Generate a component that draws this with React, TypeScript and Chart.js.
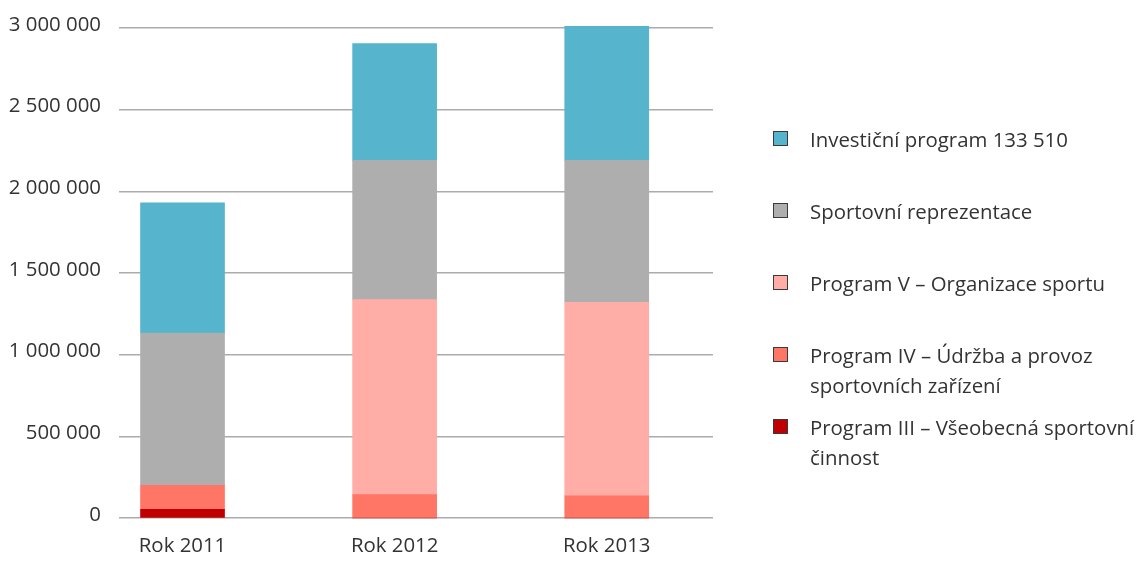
import React, { useEffect, useRef } from "react";
import { Chart, registerables } from "chart.js";

Chart.register(...registerables);

const categories = ["Rok 2011", "Rok 2012", "Rok 2013"];
const programIII = [53000, 0, 0];
const programIV = [147000, 143000, 135000];
const programV = [0, 1194000, 1186000];
const sportRepre = [932000, 853000, 869000];
const investicni = [798000, 714000, 820000];
const yTicks = [0, 500000, 1000000, 1500000, 2000000, 2500000, 3000000];

const seriesNames = {
  investicni: ["Investiční program 133 510"],
  sportRepre: ["Sportovní reprezentace"],
  programV: ["Program V – Organizace sportu"],
  programIV: ["Program IV – Údržba a provoz", "sportovních zařízení"],
  programIII: ["Program III – Všeobecná sportovní", "činnost"],
};

const colors = {
  investicni: "#56B4CD",
  sportRepre: "#AEAEAE",
  programV: "#FFADA6",
  programIV: "#FF7566",
  programIII: "#C00000",
};

const FONT = '"Open Sans", "DejaVu Sans", sans-serif';
const TEXT = "#333333";

const fmt = (v: number) =>
  Math.round(v)
    .toString()
    .replace(/\B(?=(\d{3})+(?!\d))/g, " ");

export default function App() {
  const ref = useRef<HTMLCanvasElement | null>(null);

  useEffect(() => {
    if (!ref.current) return;
    const mk = (key: keyof typeof colors, vals: number[]) => ({
      label: seriesNames[key].join(" "),
      data: vals.map((v, i) => ({ x: i, y: v })),
      backgroundColor: colors[key],
      borderWidth: 0,
      barThickness: 84,
      stack: "s",
      clip: false as any,
    });
    const chart = new Chart(ref.current, {
      type: "bar",
      data: {
        datasets: [
          mk("programIII", programIII),
          mk("programIV", programIV),
          mk("programV", programV),
          mk("sportRepre", sportRepre),
          mk("investicni", investicni),
        ] as any,
      },
      options: {
        animation: false,
        responsive: true,
        maintainAspectRatio: false,
        layout: { padding: { top: 20, right: 424, left: 0, bottom: 0 } },
        plugins: { legend: { display: false }, tooltip: { enabled: false } },
        scales: {
          x: {
            type: "linear",
            stacked: true,
            offset: false,
            min: -0.2995,
            max: 2.501,
            grid: { display: false, drawTicks: false, offset: false },
            border: { display: false },
            afterBuildTicks: (scale: any) => {
              scale.ticks = categories.map((_, i) => ({ value: i }));
            },
            afterFit: (scale: any) => {
              scale.height = 37;
              scale.paddingLeft = 0;
              scale.paddingRight = 0;
            },
            ticks: {
              padding: 16,
              color: TEXT,
              font: { family: FONT, size: 20.4 },
              maxRotation: 0,
              autoSkip: false,
              callback: (v: any) => categories[Math.round(Number(v))] ?? "",
            },
          },
          y: {
            type: "linear",
            stacked: true,
            min: 0,
            max: 3000000,
            afterBuildTicks: (scale: any) => {
              scale.ticks = yTicks.map((v) => ({ value: v }));
            },
            afterFit: (scale: any) => {
              scale.width = 111;
              scale.paddingTop = 0;
              scale.paddingBottom = 0;
            },
            grid: { color: "#ABABAB", lineWidth: 1.4, drawTicks: false },
            border: { display: false },
            ticks: {
              padding: 18,
              labelOffset: -3,
              color: TEXT,
              font: { family: FONT, size: 20.4 },
              callback: (v: any) => fmt(Number(v)),
            },
          },
        },
      } as any,
    });
    const fonts: any = (document as any).fonts;
    if (fonts && fonts.load) {
      fonts.load('20px "Open Sans"').then(() => chart.update()).catch(() => {});
    }
    return () => chart.destroy();
  }, []);

  const legendOrder: (keyof typeof colors)[] = [
    "investicni",
    "sportRepre",
    "programV",
    "programIV",
    "programIII",
  ];

  return (
    <div
      style={{
        position: "relative",
        width: 1129,
        height: 547,
        overflow: "hidden",
      }}
    >
      <canvas ref={ref} />
      {legendOrder.map((key, idx) => {
        const center = 131 + idx * 72;
        return (
          <div key={key}>
            <div
              style={{
                position: "absolute",
                left: 765,
                top: center - 8.5,
                width: 13,
                height: 13,
                background: colors[key],
                border: "1px solid #3A3A3A",
              }}
            />
            <div
              style={{
                position: "absolute",
                left: 802,
                top: center - 15,
                fontFamily: FONT,
                fontSize: 20.4,
                lineHeight: "30px",
                color: TEXT,
                whiteSpace: "nowrap",
              }}
            >
              {seriesNames[key].map((line, j) => (
                <div key={j}>{line}</div>
              ))}
            </div>
          </div>
        );
      })}
    </div>
  );
}
